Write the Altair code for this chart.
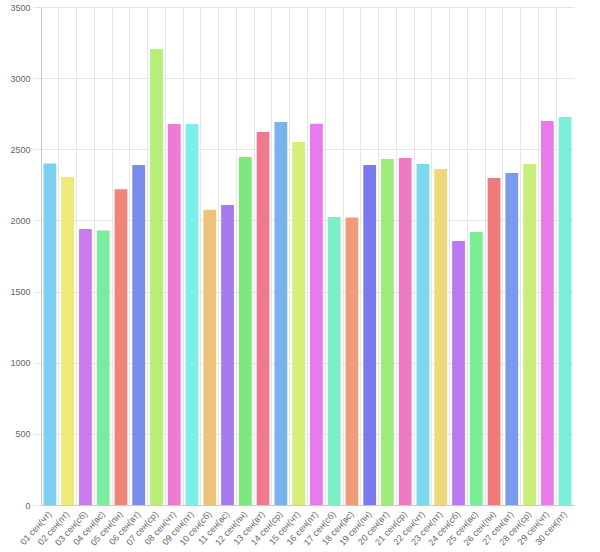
import altair as alt
import pandas as pd

categories = [
    "01 сен(чт)", "02 сен(пт)", "03 сен(сб)", "04 сен(вс)", "05 сен(пн)",
    "06 сен(вт)", "07 сен(ср)", "08 сен(чт)", "09 сен(пт)", "10 сен(сб)",
    "11 сен(вс)", "12 сен(пн)", "13 сен(вт)", "14 сен(ср)", "15 сен(чт)",
    "16 сен(пт)", "17 сен(сб)", "18 сен(вс)", "19 сен(пн)", "20 сен(вт)",
    "21 сен(ср)", "22 сен(чт)", "23 сен(пт)", "24 сен(сб)", "25 сен(вс)",
    "26 сен(пн)", "27 сен(вт)", "28 сен(ср)", "29 сен(чт)", "30 сен(пт)",
]
values = [
    2400, 2305, 1940, 1930, 2220, 2390, 3205, 2677, 2677, 2075,
    2108, 2445, 2621, 2691, 2551, 2680, 2024, 2020, 2389, 2431,
    2438, 2396, 2361, 1855, 1918, 2298, 2333, 2396, 2698, 2727,
]
colors = [
    "#7ccff0", "#eeea78", "#c97bee", "#7bec9f", "#ef8577",
    "#7a8cea", "#b5ef78", "#ef7ad2", "#7aeee8", "#efc27a",
    "#a57aee", "#7ae87a", "#ef7a8e", "#7ab2ee", "#d7ef7a",
    "#e87aee", "#7aeec5", "#ef9c7a", "#7a7aee", "#9cec7a",
    "#ef7ac4", "#7ad8ef", "#efd87a", "#b87aee", "#7aee96",
    "#ef7a7a", "#7a9aee", "#c8ef7a", "#ea7aea", "#7aeed8",
]
y_ticks = [0, 500, 1000, 1500, 2000, 2500, 3000, 3500]

df = pd.DataFrame({"day": categories, "value": values})

FONT = "Liberation Sans"
GRID = "#e6e6e6"
TEXT = "#666666"

xscale = alt.Scale(domain=categories, paddingInner=0, paddingOuter=0, range=[0, 533])
yscale = alt.Scale(domain=[0, 3500], nice=False)

bars = alt.Chart(df).mark_bar(width=alt.RelativeBandSize(0.72)).encode(
    x=alt.X("day:N", scale=xscale, sort=categories, title=None,
            axis=alt.Axis(orient="bottom", grid=False, ticks=False, domain=True,
                          domainColor="#c8c8c8", labelAngle=-48, labelAlign="right",
                          labelBaseline="middle", labelPadding=7, labelFontSize=9,
                          labelColor=TEXT, labelFont=FONT, labelOverlap=False)),
    y=alt.Y("value:Q", scale=yscale, title=None,
            axis=alt.Axis(values=y_ticks, format="d", grid=True, gridColor=GRID,
                          tickColor=GRID, tickSize=8, domain=True, domainColor="#c8c8c8",
                          labelFontSize=9, labelColor=TEXT, labelFont=FONT,
                          labelPadding=3)),
    color=alt.Color("day:N", scale=alt.Scale(domain=categories, range=colors), legend=None),
)

gridlayer = alt.Chart(df).mark_bar(opacity=0).encode(
    x=alt.X("day:N", scale=xscale, sort=categories, title=None,
            axis=alt.Axis(orient="top", grid=True, gridColor=GRID, bandPosition=0,
                          labels=False, ticks=False, domain=False)),
    y=alt.Y("value:Q", scale=yscale, title=None),
)

chart = alt.layer(gridlayer, bars).resolve_axis(x="independent").properties(
    width=539, height=498,
    autosize=alt.AutoSizeParams(type="none"),
    padding={"left": 41, "top": 7, "right": 20, "bottom": 47},
).configure_view(stroke=None)

chart.save("out.html", embed_options={"renderer": "svg", "actions": False})
